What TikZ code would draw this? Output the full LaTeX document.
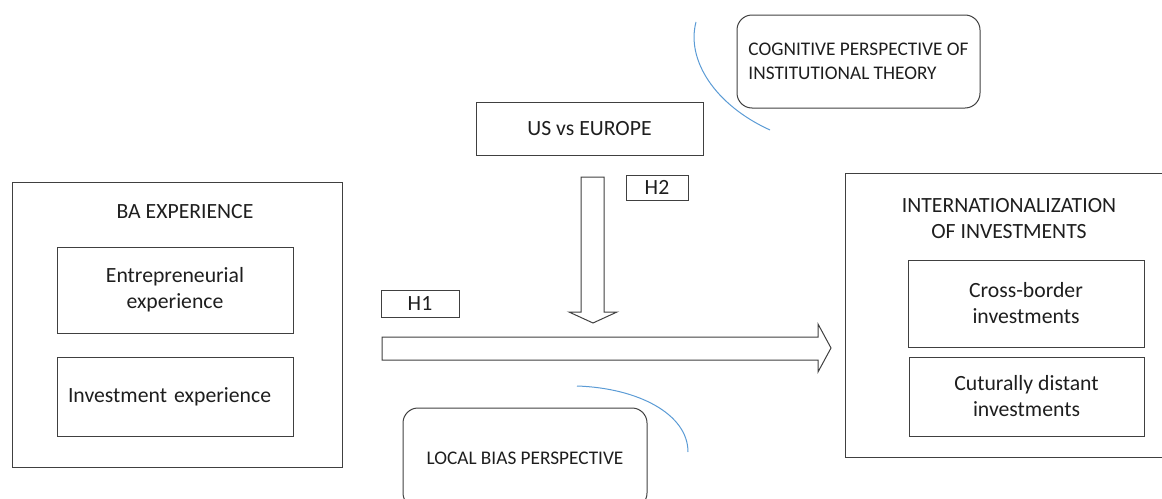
\documentclass[tikz,border=0pt]{standalone}
\usepackage{fontspec}
\setmainfont{Carlito}
\definecolor{linegray}{RGB}{64,64,64}
\definecolor{textgray}{RGB}{30,30,30}
\definecolor{arcblue}{RGB}{91,155,213}
\newcommand{\bigtext}{\fontsize{21.7}{26}\selectfont}
\newcommand{\smalltext}{\fontsize{19.3}{23.5}\selectfont}
\begin{document}
\begin{tikzpicture}[x=1pt,y=-1pt,
        box/.style={draw=linegray,line width=1pt,text=textgray,align=center,inner sep=0pt,font=\bigtext},
        roundbox/.style={box,rounded corners=15pt,font=\smalltext},
        blockarrow/.style={draw=linegray,line width=1pt,fill=white,line join=miter},
        bluearc/.style={draw=arcblue,line width=1pt}]
        \useasboundingbox (0,0) rectangle (1162,498);
        \clip (0,0) rectangle (1162,498);
        % left block
        \node[box,minimum width=330pt,minimum height=285pt] (ba) at (177,324.5) {};
        \node[text=textgray,font=\bigtext] (batitle) at (185,212) {BA EXPERIENCE};
        \node[box,minimum width=236pt,minimum height=86pt] (entre) at (175,290) {Entrepreneurial\\experience};
        \node[box,text width=214pt,align=left,inner xsep=11pt,minimum height=79pt] (invest) at (175,396.5) {Investment experience};
        % right block
        \node[box,minimum width=330pt,minimum height=284pt] (intl) at (1010,315) {};
        \node[text=textgray,font=\bigtext,align=center] (intltitle) at (1009,219) {INTERNATIONALIZATION\\OF INVESTMENTS};
        \node[box,minimum width=236pt,minimum height=87pt] (cross) at (1026,303.5) {Cross-border\\investments};
        \node[box,minimum width=235pt,minimum height=79pt] (cult) at (1026.5,396.5) {Cuturally distant\\investments};
        % moderator and theories
        \node[box,minimum width=227pt,minimum height=53pt] (us) at (589.5,128.5) {US vs EUROPE};
        \node[roundbox,align=left,minimum width=243pt,minimum height=93pt] (cog) at (858.5,61.5) {COGNITIVE PERSPECTIVE OF\\INSTITUTIONAL THEORY};
        \node[roundbox,minimum width=244pt,minimum height=100pt] (local) at (525,458) {LOCAL BIAS PERSPECTIVE};
        % hypotheses
        \node[box,minimum width=62pt,minimum height=25pt] (h2) at (657,187.5) {H2};
        \node[box,minimum width=78pt,minimum height=27pt] (h1) at (420,303.5) {H1};
        % block arrows
        \path[blockarrow] (581,177) -- (604,177) -- (604,312) -- (617,312) -- (593,323) -- (569,312) -- (581,312) -- cycle;
        \path[blockarrow] (382,337) -- (818,337) -- (818,324) -- (831,348) -- (818,372) -- (818,360) -- (382,360) -- cycle;
        % arcs
        \path[bluearc] (696,22) .. controls (686,60) and (715,105) .. (770,130);
        \path[bluearc] (577,386) .. controls (638,388) and (688,414) .. (688,452);
\end{tikzpicture}
\end{document}
